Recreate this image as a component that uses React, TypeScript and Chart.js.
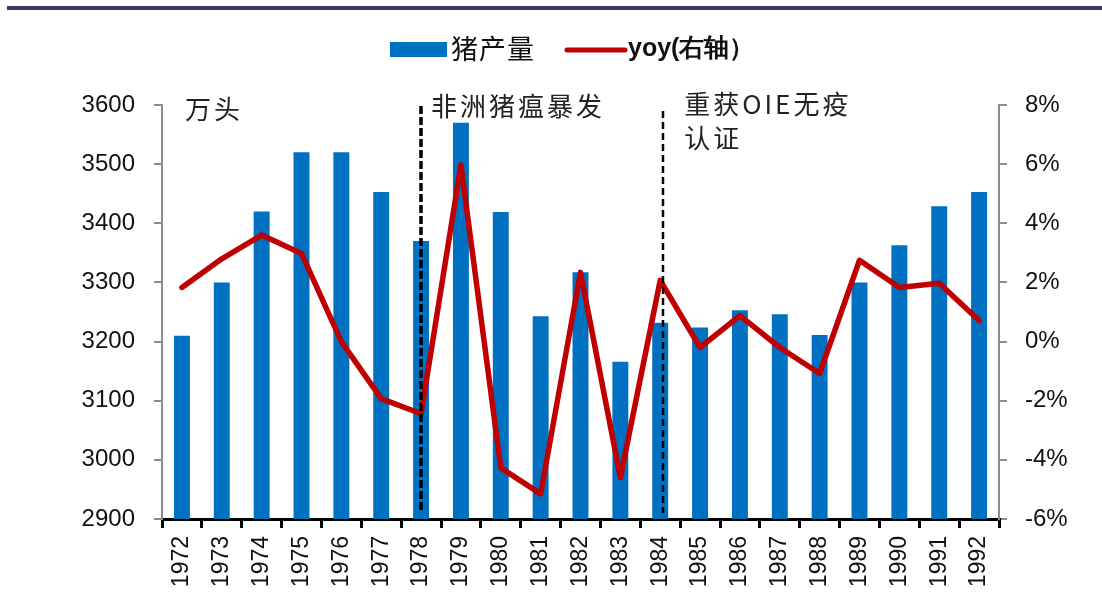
import { useEffect, useRef } from 'react';
import { Chart, registerables } from 'chart.js';

Chart.register(...registerables);

const years = ['1972', '1973', '1974', '1975', '1976', '1977', '1978', '1979', '1980', '1981', '1982', '1983', '1984', '1985', '1986', '1987', '1988', '1989', '1990', '1991', '1992'];
const production = [3210, 3300, 3420, 3520, 3520, 3453, 3370, 3570, 3419, 3243, 3317, 3166, 3232, 3224, 3253, 3246, 3211, 3300, 3363, 3429, 3453];
const yoyPct = [1.83, 2.8, 3.6, 2.98, 0.0, -1.93, -2.44, 5.97, -4.27, -5.15, 2.34, -4.6, 2.07, -0.2, 0.88, -0.2, -1.08, 2.75, 1.83, 1.97, 0.71];

const seriesNames = ['猪产量', 'yoy(右轴）'];
const unitLabel = '万头';
const eventYears = ['1978', '1984'];
const eventLabels = [['非洲猪瘟暴发'], ['重获OIE无疫', '认证']];

const leftMin = 2900;
const leftMax = 3600;
const leftStep = 100;
const rightMin = -6;
const rightMax = 8;
const rightStep = 2;

const NUM_FONT = '"Liberation Sans", Arial, sans-serif';
const CJK_FONT = '"Noto Sans CJK SC", sans-serif';

const overlayPlugin = {
  id: 'overlay',
  afterDatasetsDraw(chart: any) {
    const { ctx, chartArea, scales } = chart;
    const x = scales.x;
    ctx.save();
    eventYears.forEach((yr, i) => {
      const idx = years.indexOf(yr);
      const px = Math.round(x.getPixelForValue(idx)) + (i === 0 ? 0 : 3);
      ctx.beginPath();
      ctx.strokeStyle = '#000';
      ctx.lineWidth = i === 0 ? 3.5 : 2.5;
      ctx.setLineDash(i === 0 ? [8, 3] : [7, 4]);
      ctx.moveTo(px, chartArea.top + (i === 0 ? 1 : 6));
      ctx.lineTo(px, chartArea.bottom - 6);
      ctx.stroke();
    });
    ctx.restore();
  },
  afterDraw(chart: any) {
    const { ctx, chartArea, scales } = chart;
    const x = scales.x;
    ctx.save();
    // annotations
    ctx.fillStyle = '#222';
    ctx.font = `26px ${CJK_FONT}`;
    ctx.textBaseline = 'middle';
    ctx.textAlign = 'left';
    try { (ctx as any).letterSpacing = '3px'; } catch (e) {}
    ctx.fillText(unitLabel, chartArea.left + 23, chartArea.top + 4);
    eventYears.forEach((yr, i) => {
      const idx = years.indexOf(yr);
      const px = x.getPixelForValue(idx);
      const lines = eventLabels[i];
      lines.forEach((t, j) => {
        ctx.fillText(t, px + (i === 0 ? 10 : 24), chartArea.top + (i === 0 ? 1 : -1) + j * 34);
      });
    });
    try { (ctx as any).letterSpacing = '1px'; } catch (e) {}

    // legend
    const ly = 49;
    ctx.fillStyle = '#0070C0';
    ctx.fillRect(390, ly - 7, 57, 15);
    ctx.fillStyle = '#111';
    ctx.font = `27px ${CJK_FONT}`;
    ctx.fillText(seriesNames[0], 451, ly);
    try { (ctx as any).letterSpacing = '0px'; } catch (e) {}
    ctx.beginPath();
    ctx.strokeStyle = '#C00000';
    ctx.lineWidth = 5;
    ctx.lineCap = 'round';
    ctx.moveTo(567, ly + 1);
    ctx.lineTo(625, ly + 1);
    ctx.stroke();
    ctx.font = `bold 25px ${NUM_FONT}`;
    ctx.fillStyle = '#111';
    ctx.fillText(seriesNames[1], 628, ly);
    ctx.restore();
  },
};

export default function App() {
  const ref = useRef<HTMLCanvasElement | null>(null);

  useEffect(() => {
    if (!ref.current) return;
    const chart = new Chart(ref.current, {
      type: 'bar',
      data: {
        labels: years,
        datasets: [
          {
            type: 'line',
            label: seriesNames[1],
            data: yoyPct,
            yAxisID: 'y1',
            borderColor: '#C00000',
            backgroundColor: '#C00000',
            borderWidth: 5.5,
            pointRadius: 0,
            tension: 0,
            order: 0,
            borderJoinStyle: 'round',
            borderCapStyle: 'round',
          } as any,
          {
            type: 'bar',
            label: seriesNames[0],
            data: production,
            yAxisID: 'y',
            backgroundColor: '#0070C0',
            borderWidth: 0,
            barPercentage: 0.4,
            categoryPercentage: 1,
            order: 1,
          } as any,
        ],
      },
      options: {
        animation: false,
        responsive: false,
        maintainAspectRatio: false,
        layout: { padding: { top: 105, left: 0, right: 0, bottom: 0 } },
        plugins: {
          legend: { display: false },
          tooltip: { enabled: false },
          title: { display: false },
        },
        scales: {
          x: {
            offset: true,
            grid: {
              display: true,
              drawOnChartArea: false,
              drawTicks: true,
              tickLength: 9,
              color: '#000',
              lineWidth: 3,
              offset: true,
            },
            border: { display: true, color: '#000', width: 3 },
            ticks: {
              autoSkip: false,
              minRotation: 90,
              maxRotation: 90,
              padding: 8,
              color: '#111',
              font: { family: NUM_FONT, size: 23 },
            },
            afterFit(scale: any) {
              scale.height = 83;
            },
          },
          y: {
            position: 'left',
            min: leftMin,
            max: leftMax,
            grid: {
              display: true,
              drawOnChartArea: false,
              drawTicks: true,
              tickLength: 8,
              color: '#8c8c8c',
              lineWidth: 2,
            },
            border: { display: true, color: '#8c8c8c', width: 2 },
            ticks: {
              stepSize: leftStep,
              padding: 19,
              color: '#111',
              font: { family: NUM_FONT, size: 24 },
              callback: (v: any) => String(v),
            },
            afterFit(scale: any) {
              scale.width = 162;
            },
          },
          y1: {
            position: 'right',
            min: rightMin,
            max: rightMax,
            grid: {
              display: true,
              drawOnChartArea: false,
              drawTicks: true,
              tickLength: 8,
              color: '#8c8c8c',
              lineWidth: 2,
            },
            border: { display: true, color: '#8c8c8c', width: 2 },
            ticks: {
              stepSize: rightStep,
              padding: 18,
              color: '#111',
              font: { family: NUM_FONT, size: 24 },
              callback: (v: any) => `${v}%`,
            },
            afterFit(scale: any) {
              scale.width = 103;
            },
          },
        },
      },
      plugins: [overlayPlugin],
    });
    return () => chart.destroy();
  }, []);

  return (
    <div style={{ position: 'fixed', left: 0, top: 0, width: 1102, height: 602, background: '#fff' }}>
      <div style={{ position: 'absolute', left: 7, right: 0, top: 6, height: 4, background: '#3b3b6b' }} />
      <canvas ref={ref} width={1102} height={602} style={{ display: 'block', width: 1102, height: 602 }} />
    </div>
  );
}
